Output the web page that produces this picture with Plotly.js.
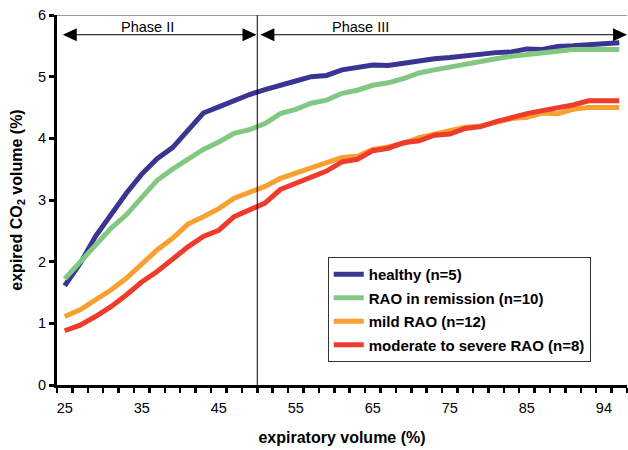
<!DOCTYPE html>
<html>
<head>
<meta charset="utf-8">
<script src="https://cdn.plot.ly/plotly-3.0.1.min.js"></script>
<style>html,body{margin:0;padding:0;background:#fff;}#chart{width:628px;height:450px;}</style>
</head>
<body>
<div id="chart"></div>
<script>
// expiratory volume categories (%)
const expVolume = [25,27,29,31,33,35,37,39,41,43,45,47,49,51,53,55,57,59,61,63,65,67,69,71,73,75,77,79,81,83,85,87,89,91,93,95,97];
const tickPositions = [25,35,45,55,65,75,85,95];
const tickLabels = ["25","35","45","55","65","75","85","94"];

const healthy = [1.61,1.97,2.41,2.76,3.11,3.42,3.67,3.85,4.12,4.41,4.51,4.62,4.71,4.79,4.85,4.93,5.00,5.02,5.11,5.14,5.19,5.18,5.22,5.25,5.29,5.31,5.34,5.36,5.39,5.40,5.45,5.44,5.49,5.50,5.52,5.54,5.55];
const remission = [1.72,2.00,2.29,2.54,2.76,3.05,3.32,3.50,3.67,3.82,3.94,4.08,4.14,4.24,4.40,4.47,4.57,4.62,4.73,4.78,4.86,4.90,4.97,5.06,5.11,5.16,5.20,5.25,5.29,5.33,5.36,5.39,5.42,5.44,5.44,5.44,5.44];
const mildRAO = [1.11,1.22,1.38,1.54,1.73,1.97,2.19,2.38,2.61,2.73,2.86,3.03,3.12,3.22,3.35,3.43,3.51,3.59,3.69,3.71,3.82,3.86,3.92,4.01,4.07,4.11,4.18,4.20,4.27,4.32,4.34,4.41,4.40,4.47,4.50,4.50,4.50];
const severeRAO = [0.88,0.97,1.11,1.27,1.46,1.67,1.84,2.04,2.24,2.41,2.51,2.73,2.83,2.95,3.17,3.27,3.38,3.47,3.62,3.66,3.80,3.84,3.93,3.96,4.05,4.07,4.16,4.19,4.27,4.34,4.40,4.45,4.49,4.54,4.61,4.61,4.61];

const seriesNames = ["healthy (n=5)","RAO in remission (n=10)","mild RAO (n=12)","moderate to severe RAO (n=8)"];
const seriesColors = ["#3a3592","#82c882","#f8a030","#ee3b2b"];
const seriesData = [healthy, remission, mildRAO, severeRAO];

// phase boundary and phase arrow extents (data units)
const phaseBoundary = 50;
const xMin = 24, xMax = 98;
const arrowLevel = 5.68;
const phase2Span = [24.75, 49.9];
const phase3Span = [50.4, 98];

const FONT = "Liberation Sans, Arial, Helvetica, sans-serif";

const traces = seriesData.map((d, i) => ({
  type: "scatter",
  mode: "lines",
  x: expVolume,
  y: d,
  name: seriesNames[i],
  legendgroup: "g" + i,
  line: {color: seriesColors[i], width: 5},
  hoverinfo: "x+y+name"
}));

function arrowHead(xPos, pointLeft) {
  const p = pointLeft ? "M0,0L14,6.5L14,-6.5Z" : "M0,0L-14,6.5L-14,-6.5Z";
  return {type: "path", xref: "x", yref: "y", xsizemode: "pixel", ysizemode: "pixel",
          xanchor: xPos, yanchor: arrowLevel, path: p,
          fillcolor: "#000", line: {width: 0}};
}

const layout = {
  width: 628,
  height: 450,
  margin: {l: 57, r: 1, t: 15, b: 65},
  paper_bgcolor: "#ffffff",
  plot_bgcolor: "#ffffff",
  font: {family: FONT, color: "#000"},
  showlegend: true,
  legend: {
    x: 0.475, y: 0.346, xanchor: "left", yanchor: "top",
    bgcolor: "#ffffff", bordercolor: "#333", borderwidth: 1,
    font: {family: FONT, size: 15, color: "#000", weight: "bold"},
    traceorder: "grouped", tracegroupgap: 1
  },
  xaxis: {
    range: [xMin, xMax],
    tickmode: "array",
    tickvals: tickPositions,
    ticktext: tickLabels,
    ticks: "outside",
    ticklen: 5,
    tickcolor: "rgba(0,0,0,0)",
    ticklabelstandoff: 3,
    tickfont: {family: FONT, size: 14.5, color: "#000"},
    minor: {tickmode: "linear", tick0: xMin, dtick: 2, ticks: "outside", ticklen: 5, tickwidth: 2.5, tickcolor: "#000", showgrid: false},
    showline: true, linecolor: "#000", linewidth: 3,
    showgrid: false, zeroline: false,
    title: {text: "expiratory volume (%)", font: {family: FONT, size: 16, color: "#000", weight: "bold"}, standoff: 17}
  },
  yaxis: {
    range: [0, 6],
    tickmode: "linear", tick0: 0, dtick: 1,
    ticks: "outside", ticklen: 5, tickwidth: 3, tickcolor: "#000",
    tickfont: {family: FONT, size: 14.5, color: "#000"},
    showline: true, linecolor: "#000", linewidth: 3,
    showgrid: false, zeroline: false,
    title: {text: "expired CO<sub>2</sub> volume (%)", font: {family: FONT, size: 16, color: "#000", weight: "bold"}, standoff: 12}
  },
  shapes: [
    {type: "line", xref: "x", yref: "y", x0: phaseBoundary, x1: phaseBoundary, y0: 0, y1: 6, line: {color: "#000", width: 1}},
    {type: "line", xref: "x", yref: "y", x0: xMin, x1: xMax, y0: 6, y1: 6, line: {color: "#333", width: 1}},
    {type: "line", xref: "x", yref: "y", x0: phase2Span[0] + 1, x1: phase2Span[1] - 1, y0: arrowLevel, y1: arrowLevel, line: {color: "#000", width: 1}},
    {type: "line", xref: "x", yref: "y", x0: phase3Span[0] + 1, x1: phase3Span[1] - 1, y0: arrowLevel, y1: arrowLevel, line: {color: "#000", width: 1}},
    arrowHead(phase2Span[0], true),
    arrowHead(phase2Span[1], false),
    arrowHead(phase3Span[0], true),
    arrowHead(phase3Span[1], false)
  ],
  annotations: [
    {xref: "x", yref: "y", x: 35.7, y: 5.81, text: "Phase II", showarrow: false, xanchor: "center", yanchor: "middle",
     font: {family: FONT, size: 14.5, color: "#000"}},
    {xref: "x", yref: "y", x: 63.4, y: 5.81, text: "Phase III", showarrow: false, xanchor: "center", yanchor: "middle",
     font: {family: FONT, size: 14.5, color: "#000"}}
  ]
};

Plotly.newPlot("chart", traces, layout, {displayModeBar: false, staticPlot: true});
</script>
</body>
</html>
